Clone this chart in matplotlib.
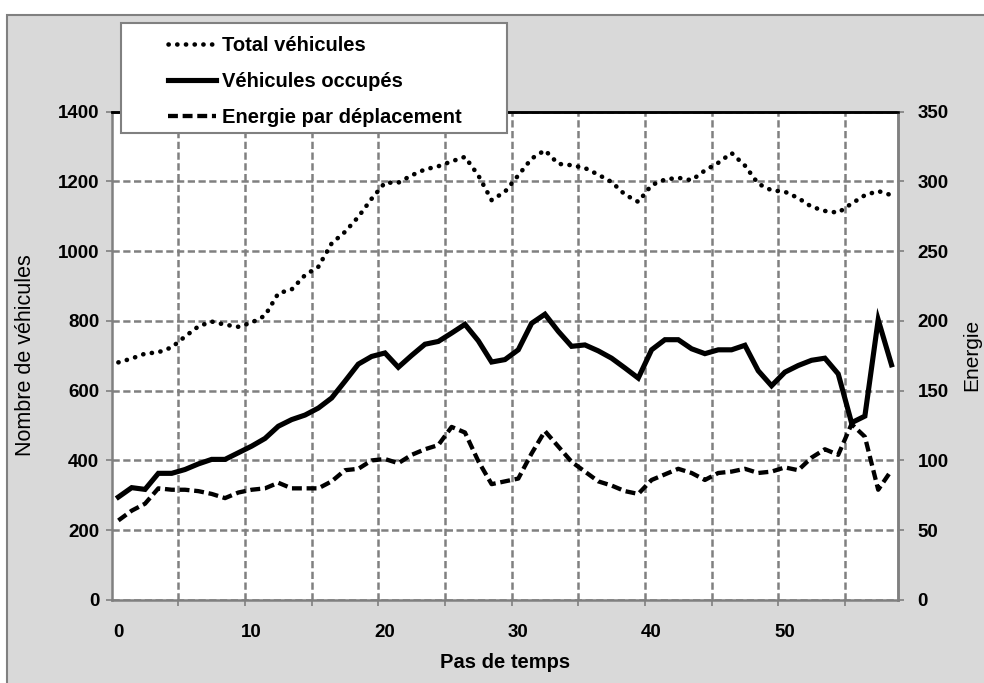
import matplotlib
matplotlib.use("Agg")
import matplotlib.pyplot as plt
from matplotlib.patches import Rectangle
from matplotlib.ticker import FixedLocator, MultipleLocator

# données (59 pas de temps)
pas_de_temps = list(range(59))
total_vehicules = [681, 692, 706, 710, 724, 755, 784, 798, 789, 783, 795, 815, 879, 890, 931,
                   955, 1022, 1055, 1098, 1150, 1196, 1196, 1217, 1234, 1243, 1257, 1270, 1217, 1146,
                   1170, 1217, 1265, 1289, 1250, 1246, 1238, 1219, 1198, 1162, 1141, 1189, 1205, 1210, 1203,
                   1231, 1253, 1281, 1245, 1193, 1174, 1170, 1152, 1127, 1115, 1110, 1136, 1160, 1172, 1160]
vehicules_occupes = [295, 322, 317, 363, 363, 374, 390, 403, 403, 422, 441, 463, 498, 517, 530,
                     550, 579, 627, 676, 698, 708, 667, 701, 733, 741, 765, 790, 743, 682,
                     689, 717, 793, 819, 770, 727, 731, 714, 693, 665, 636, 717, 746, 746, 720,
                     706, 717, 717, 730, 657, 614, 653, 672, 687, 693, 648, 508, 527, 803, 674]
energie = [57, 64, 69, 80, 79, 79, 78, 76, 73, 77, 79, 80, 84, 80, 80,
           80, 85, 93, 94, 100, 101, 98, 104, 108, 111, 124, 120, 99.5, 83,
           85, 87, 105, 121, 110, 99, 92, 85, 82, 78, 76, 86, 90, 94, 91,
           86, 91, 92, 94, 91, 92, 95, 93, 102, 108, 104, 126, 117, 79, 93]

x_labels = [0, 10, 20, 30, 40, 50]

plt.rcParams["font.family"] = ["Liberation Sans", "DejaVu Sans"]

W, H = 984, 683
fig = plt.figure(figsize=(W / 100, H / 100), dpi=100)
fig.patch.set_facecolor("white")

# fond gris de la zone de graphique
fig.add_artist(Rectangle((7 / W, -0.02), 1.1, (H - 15) / H + 0.02, transform=fig.transFigure,
                         facecolor="#d9d9d9", edgecolor="#808080", linewidth=1.5, zorder=-10))

left, right, top, bottom = 111.7, 898.2, 111.5, 600
ax = fig.add_axes([left / W, 1 - bottom / H, (right - left) / W, (bottom - top) / H])
ax.set_facecolor("white")
ax2 = ax.twinx()

grid_kw = dict(color="#808080", linewidth=1.8, linestyle=(0, (2.9, 1.4)))

ax.set_xlim(-0.5, 58.5)
ax.set_ylim(0, 1400)
ax2.set_ylim(0, 350)

ax.xaxis.set_major_locator(FixedLocator(x_labels))
ax.xaxis.set_minor_locator(FixedLocator([b - 0.5 for b in range(5, 59, 5)]))
ax.yaxis.set_major_locator(MultipleLocator(200))
ax2.yaxis.set_major_locator(MultipleLocator(50))

ax.grid(True, which="minor", axis="x", **grid_kw)
ax.grid(True, which="major", axis="y", **grid_kw)
ax.set_axisbelow(True)

l1, = ax.plot(pas_de_temps, total_vehicules, color="black", linewidth=3.3,
              linestyle=(0, (0.05, 1.85)), dash_capstyle="round", label="Total véhicules")
l2, = ax.plot(pas_de_temps, vehicules_occupes, color="black", linewidth=3.7,
              solid_joinstyle="miter", label="Véhicules occupés")
l3, = ax2.plot(pas_de_temps, energie, color="black", linewidth=3.1,
               linestyle=(0, (2.3, 1.1)), label="Energie par déplacement")

for a in (ax, ax2):
    for s in ("left", "bottom", "right"):
        a.spines[s].set_color("#808080")
        a.spines[s].set_linewidth(1.8)
    a.spines["top"].set_color("black")
    a.spines["top"].set_linewidth(1.8)
ax2.spines["left"].set_visible(False)
ax2.spines["bottom"].set_visible(False)

ax.tick_params(axis="x", which="major", length=0, pad=17, labelsize=13.5)
ax.tick_params(axis="x", which="minor", length=4, direction="out", color="#808080", width=1.2)
ax.tick_params(axis="y", length=4, direction="out", color="#808080", width=1.2, pad=5, labelsize=13.5)
ax2.tick_params(axis="y", length=4, direction="out", color="#808080", width=1.2, pad=10, labelsize=13.5)
for lab in ax.get_xticklabels() + ax.get_yticklabels() + ax2.get_yticklabels():
    lab.set_fontweight("bold")

fig.text(505 / W, 1 - 663 / H, "Pas de temps", ha="center", va="center",
         fontsize=14.5, fontweight="bold")
fig.text(26 / W, 1 - 355 / H, "Nombre de véhicules", ha="center", va="center",
         rotation=90, fontsize=15.5)
fig.text(972 / W, 1 - 355 / H, "Energie", ha="center", va="center",
         rotation=90, fontsize=15)

# cadre de la légende
fig.add_artist(Rectangle((121 / W, 1 - 133 / H), (507 - 121) / W, (133 - 23) / H,
                         transform=fig.transFigure, facecolor="white", edgecolor="#808080",
                         linewidth=1.5, zorder=3))
leg = fig.legend([l1, l2, l3], [l1.get_label(), l2.get_label(), l3.get_label()],
                 loc="upper left", bbox_to_anchor=(158 / W, 1 - 26 / H), frameon=False,
                 borderpad=0, handlelength=2.4, handletextpad=0.3, labelspacing=0.85,
                 prop=dict(size=14.5, weight="bold"))
leg.set_zorder(5)

fig.savefig("out.png", dpi=100)
